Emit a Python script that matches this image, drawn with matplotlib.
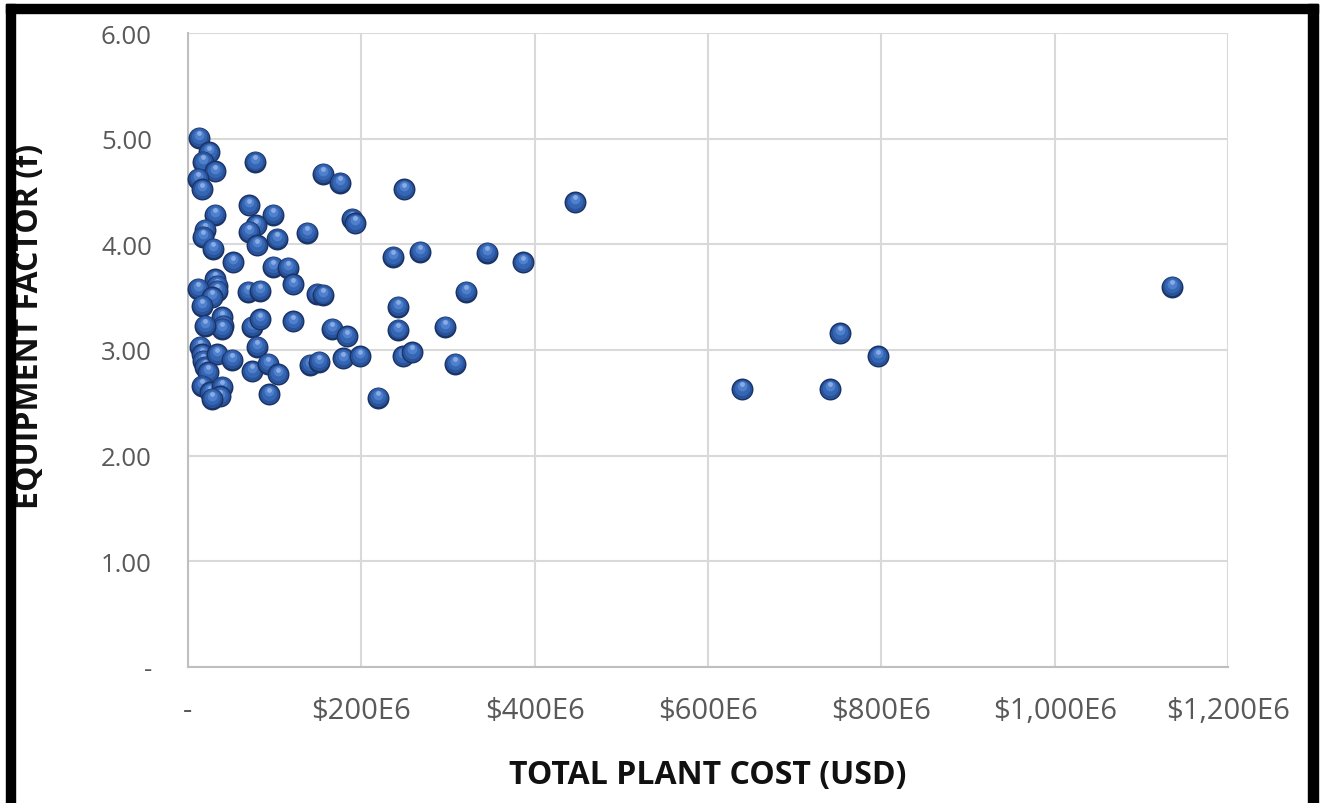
import numpy as np
import matplotlib.pyplot as plt
import matplotlib as mpl
from matplotlib.transforms import offset_copy
from matplotlib.patches import Rectangle

# total plant cost (millions USD) and equipment factor
plant_cost = [12.7, 24.2, 17.3, 31.2, 11.5, 16.2, 77.3, 31.2, 70.4, 98.1,
              19.6, 17.3, 28.9, 78.5, 70.4, 79.6, 102.7, 137.3, 51.9, 98.1,
              115.4, 31.2, 33.5, 33.5, 11.5, 27.7, 16.2, 69.2, 83.1, 121.2,
              39.2, 40.4, 39.2, 19.6, 73.9, 83.1, 121.2, 13.8, 16.2, 17.3,
              19.6, 33.5, 50.8, 23.1, 79.6, 73.9, 92.3, 103.9, 16.2, 25.4,
              39.2, 36.9, 27.7, 93.5, 155.8, 175.4, 249.3, 189.3, 192.7, 148.9,
              155.8, 166.2, 183.5, 140.8, 151.2, 178.9, 198.5, 242.4, 242.4, 248.1,
              258.5, 219.3, 236.6, 267.7, 345.1, 386.6, 320.8, 296.6, 308.1, 446.6,
              1135.6, 752.5, 796.3, 639.4, 741.0]
equip_factor = [5.01, 4.87, 4.78, 4.69, 4.62, 4.52, 4.78, 4.28, 4.37, 4.28,
                4.14, 4.07, 3.96, 4.18, 4.12, 3.99, 4.05, 4.11, 3.83, 3.79,
                3.78, 3.67, 3.61, 3.56, 3.58, 3.50, 3.42, 3.55, 3.56, 3.62,
                3.31, 3.23, 3.20, 3.23, 3.22, 3.29, 3.27, 3.03, 2.96, 2.90,
                2.84, 2.96, 2.91, 2.79, 3.03, 2.80, 2.87, 2.77, 2.66, 2.60,
                2.65, 2.56, 2.54, 2.58, 4.67, 4.58, 4.52, 4.24, 4.20, 3.53,
                3.52, 3.20, 3.13, 2.86, 2.89, 2.92, 2.94, 3.41, 3.19, 2.94,
                2.98, 2.55, 3.88, 3.93, 3.92, 3.83, 3.55, 3.22, 2.87, 4.40,
                3.60, 3.16, 2.94, 2.63, 2.63]

x_ticks = [0, 200, 400, 600, 800, 1000, 1200]
y_ticks = [0, 1, 2, 3, 4, 5, 6]


def x_fmt(v, pos):
    if v == 0:
        return "-"
    return f"${v:,.0f}E6"


def y_fmt(v, pos):
    if v == 0:
        return "-"
    return f"{v:.2f}"


mpl.rcParams["font.family"] = ["Open Sans", "DejaVu Sans"]

fig = plt.figure(figsize=(13.23, 8.04), dpi=100)
ax = fig.add_axes([188 / 1323, 136 / 804, 1040 / 1323, 634 / 804])

# sphere-ish markers: stacked circles, lighter towards the top
layers = [(250, "#1a3468", 0.0), (190, "#2a5299", 0.4),
          (120, "#3566b4", 1.0), (50, "#4f80cd", 2.1), (12, "#8aabe2", 3.4)]
for i, (xv, yv) in enumerate(zip(plant_cost, equip_factor)):
    for s, c, dy in layers:
        tr = offset_copy(ax.transData, fig=fig, x=0, y=dy, units="points")
        ax.scatter([xv], [yv], s=s, color=c, linewidths=0, transform=tr,
                   zorder=3 + i * 0.01, clip_on=False)

ax.set_xlim(0, 1200)
ax.set_ylim(0, 6)
ax.set_xticks(x_ticks)
ax.set_yticks(y_ticks)
ax.xaxis.set_major_formatter(mpl.ticker.FuncFormatter(x_fmt))
ax.yaxis.set_major_formatter(mpl.ticker.FuncFormatter(y_fmt))
ax.tick_params(axis="x", length=0, pad=21, labelsize=21, labelcolor="#595959")
ax.tick_params(axis="y", length=0, pad=26, labelsize=18.5, labelcolor="#595959")
ax.grid(True, color="#d9d9d9", lw=1.5, zorder=0)
ax.set_axisbelow(True)
for side in ["top", "right"]:
    ax.spines[side].set_visible(False)
for side in ["left", "bottom"]:
    ax.spines[side].set_color("#bfbfbf")
    ax.spines[side].set_linewidth(1.5)

ax.set_xlabel("TOTAL PLANT COST (USD)", fontsize=23, fontweight="bold", color="#111111")
ax.set_ylabel("EQUIPMENT FACTOR (f)", fontsize=23, fontweight="bold", color="#111111")
ax.xaxis.set_label_coords(0.5, -0.143)
ax.yaxis.set_label_coords(-0.152, 0.538)
ax.yaxis.label.set_va("center")

# black frame round the chart
for x0, y0, w, h in [(6, 0, 9, 799), (6, 790, 1312, 9), (1308, 0, 10, 799)]:
    fig.patches.append(Rectangle((x0 / 1323, y0 / 804), w / 1323, h / 804,
                                 transform=fig.transFigure, color="black", zorder=10))

fig.savefig("out.png", dpi=100)
